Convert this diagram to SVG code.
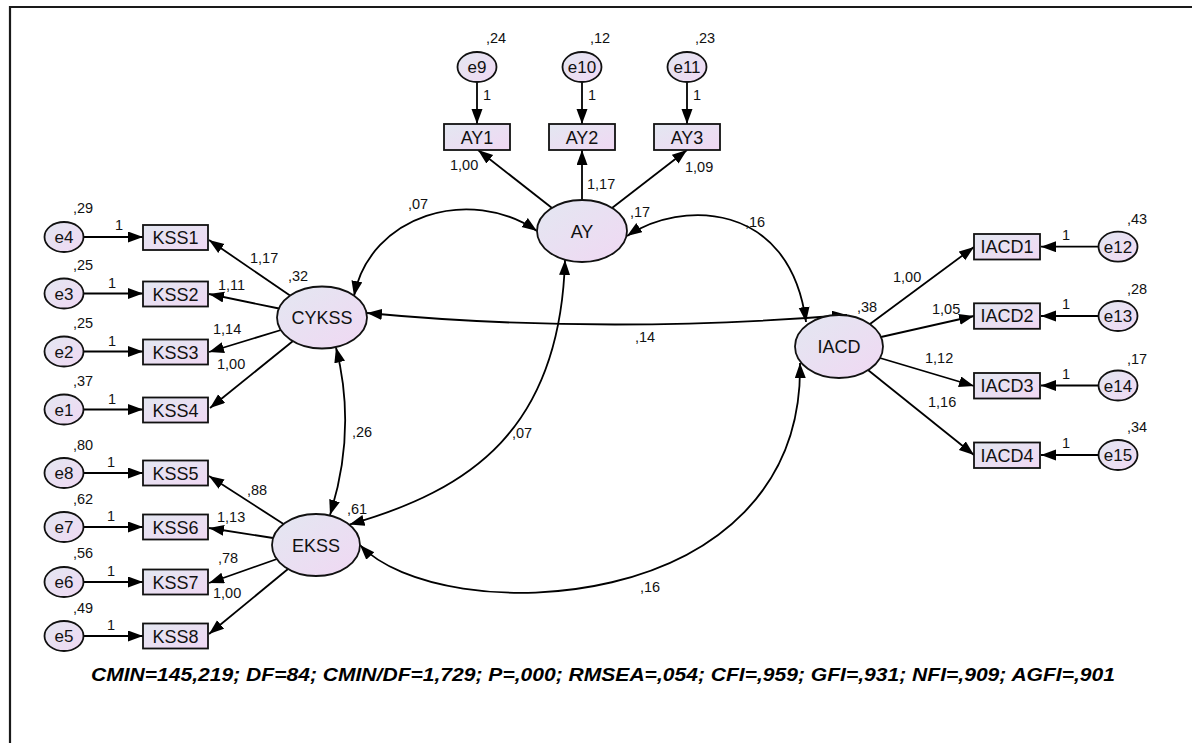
<svg xmlns="http://www.w3.org/2000/svg" width="1192" height="743" viewBox="0 0 1192 743">
<defs>
<linearGradient id="g" x1="0" y1="0" x2="1" y2="1">
<stop offset="0" stop-color="#e3e7f1"/>
<stop offset="1" stop-color="#f0d8f3"/>
</linearGradient>
<marker id="ah" markerUnits="userSpaceOnUse" markerWidth="16" markerHeight="12" refX="15" refY="5.5" orient="auto-start-reverse">
<path d="M0,0 L15,5.5 L0,11 z" fill="#000"/>
</marker>
<style>
.n ellipse,.n rect{fill:url(#g);stroke:#111;stroke-width:1.8}
.n text{font-family:"Liberation Sans",Arial,sans-serif;font-size:18px;text-anchor:middle;fill:#111}
.n text.s{font-size:17px}
.c path,.c line{fill:none;stroke:#000;stroke-width:1.8}
.a{marker-end:url(#ah)}
.b{marker-start:url(#ah);marker-end:url(#ah)}
.l text{font-family:"Liberation Sans",Arial,sans-serif;font-size:14.5px;fill:#111}
.fit{font-family:"Liberation Sans",Arial,sans-serif;font-size:18px;font-weight:bold;font-style:italic;fill:#000}
</style>
</defs>
<rect width="1192" height="743" fill="#fff"/>
<path d="M10,743 V7 H1192" fill="none" stroke="#1a1a1a" stroke-width="2.2"/>

<g class="c" id="connectors">
<line class="a" x1="477" y1="82" x2="477" y2="124"/>
<line class="a" x1="582" y1="82" x2="582" y2="124"/>
<line class="a" x1="687" y1="82" x2="687" y2="124"/>
<line class="a" x1="552" y1="208" x2="478" y2="150"/>
<line class="a" x1="582" y1="200" x2="582" y2="150"/>
<line class="a" x1="612" y1="208" x2="687" y2="150"/>

<line class="a" x1="83.5" y1="237" x2="143" y2="237"/>
<line class="a" x1="83.5" y1="293.5" x2="143" y2="293.5"/>
<line class="a" x1="83.5" y1="351.5" x2="143" y2="351.5"/>
<line class="a" x1="83.5" y1="409.5" x2="143" y2="409.5"/>
<line class="a" x1="83.5" y1="473" x2="143" y2="473"/>
<line class="a" x1="83.5" y1="527" x2="143" y2="527"/>
<line class="a" x1="83.5" y1="582" x2="143" y2="582"/>
<line class="a" x1="83.5" y1="636" x2="143" y2="636"/>

<line class="a" x1="290" y1="295.6" x2="209" y2="240"/>
<line class="a" x1="279" y1="308.5" x2="209" y2="294"/>
<line class="a" x1="281" y1="330" x2="209" y2="352"/>
<line class="a" x1="293" y1="341" x2="210" y2="408"/>

<line class="a" x1="283.5" y1="524" x2="209" y2="476"/>
<line class="a" x1="273" y1="538" x2="209" y2="528"/>
<line class="a" x1="277" y1="559" x2="209" y2="583"/>
<line class="a" x1="288" y1="569" x2="209" y2="634"/>

<line class="a" x1="870" y1="324" x2="974" y2="247"/>
<line class="a" x1="881" y1="337" x2="974" y2="316"/>
<line class="a" x1="880" y1="358" x2="974" y2="386"/>
<line class="a" x1="868" y1="370" x2="974" y2="455"/>

<line class="a" x1="1098.5" y1="246.7" x2="1041" y2="246.7"/>
<line class="a" x1="1098.5" y1="316" x2="1041" y2="316"/>
<line class="a" x1="1098.5" y1="385.5" x2="1041" y2="385.5"/>
<line class="a" x1="1098.5" y1="455" x2="1041" y2="455"/>

<path class="b" d="M354,296 C370,215 470,185 537,231"/>
<path class="b" d="M627,236 C680,200 790,200 806,322"/>
<path class="b" d="M367,313 Q600,335 847,315"/>
<path class="b" d="M336,347.5 Q357,430 330,515"/>
<path class="b" d="M565,260 C560,430 470,490 349.5,524.5"/>
<path class="b" d="M360,545 C440,630 805,620 800,363"/>
</g>

<g class="n" id="e9"><ellipse cx="477" cy="67" rx="19.5" ry="15"/><text class="s" x="477" y="73">e9</text></g>
<g class="n" id="e10"><ellipse cx="582" cy="67" rx="19.5" ry="15"/><text class="s" x="582" y="73">e10</text></g>
<g class="n" id="e11"><ellipse cx="687" cy="67" rx="19.5" ry="15"/><text class="s" x="687" y="73">e11</text></g>
<g class="n" id="AY1"><rect x="444" y="124" width="66" height="26"/><text x="477" y="143.5">AY1</text></g>
<g class="n" id="AY2"><rect x="549" y="124" width="66" height="26"/><text x="582" y="143.5">AY2</text></g>
<g class="n" id="AY3"><rect x="654" y="124" width="66" height="26"/><text x="687" y="143.5">AY3</text></g>
<g class="n" id="AY"><ellipse cx="582" cy="231" rx="45" ry="31"/><text x="582" y="237.5">AY</text></g>

<g class="n" id="e4"><ellipse cx="64" cy="237" rx="19.5" ry="15"/><text class="s" x="64" y="243">e4</text></g>
<g class="n" id="e3"><ellipse cx="64" cy="293.5" rx="19.5" ry="15"/><text class="s" x="64" y="299.5">e3</text></g>
<g class="n" id="e2"><ellipse cx="64" cy="351.5" rx="19.5" ry="15"/><text class="s" x="64" y="357.5">e2</text></g>
<g class="n" id="e1"><ellipse cx="64" cy="409.5" rx="19.5" ry="15"/><text class="s" x="64" y="415.5">e1</text></g>
<g class="n" id="e8"><ellipse cx="64" cy="473" rx="19.5" ry="15"/><text class="s" x="64" y="479">e8</text></g>
<g class="n" id="e7"><ellipse cx="64" cy="527" rx="19.5" ry="15"/><text class="s" x="64" y="533">e7</text></g>
<g class="n" id="e6"><ellipse cx="64" cy="582" rx="19.5" ry="15"/><text class="s" x="64" y="588">e6</text></g>
<g class="n" id="e5"><ellipse cx="64" cy="636" rx="19.5" ry="15"/><text class="s" x="64" y="642">e5</text></g>

<g class="n" id="KSS1"><rect x="143" y="225" width="65" height="25"/><text x="175.5" y="244">KSS1</text></g>
<g class="n" id="KSS2"><rect x="143" y="281.5" width="65" height="25"/><text x="175.5" y="300.5">KSS2</text></g>
<g class="n" id="KSS3"><rect x="143" y="339.5" width="65" height="25"/><text x="175.5" y="358.5">KSS3</text></g>
<g class="n" id="KSS4"><rect x="143" y="397.5" width="65" height="25"/><text x="175.5" y="416.5">KSS4</text></g>
<g class="n" id="KSS5"><rect x="143" y="460.5" width="65" height="25"/><text x="175.5" y="479.5">KSS5</text></g>
<g class="n" id="KSS6"><rect x="143" y="514.5" width="65" height="25"/><text x="175.5" y="533.5">KSS6</text></g>
<g class="n" id="KSS7"><rect x="143" y="569.5" width="65" height="25"/><text x="175.5" y="588.5">KSS7</text></g>
<g class="n" id="KSS8"><rect x="143" y="623.5" width="65" height="25"/><text x="175.5" y="642.5">KSS8</text></g>

<g class="n" id="CYKSS"><ellipse cx="322" cy="317.5" rx="45" ry="31"/><text x="322" y="324">CYKSS</text></g>
<g class="n" id="EKSS"><ellipse cx="316" cy="545" rx="44" ry="31"/><text x="316" y="551.5">EKSS</text></g>
<g class="n" id="IACD"><ellipse cx="839" cy="346.5" rx="44" ry="31.5"/><text x="839" y="353">IACD</text></g>

<g class="n" id="IACD1"><rect x="974" y="234" width="66" height="25.5"/><text x="1007" y="253">IACD1</text></g>
<g class="n" id="IACD2"><rect x="974" y="303.3" width="66" height="25.5"/><text x="1007" y="322.3">IACD2</text></g>
<g class="n" id="IACD3"><rect x="974" y="373" width="66" height="25.5"/><text x="1007" y="392">IACD3</text></g>
<g class="n" id="IACD4"><rect x="974" y="442.5" width="66" height="25.5"/><text x="1007" y="461.5">IACD4</text></g>
<g class="n" id="e12"><ellipse cx="1118" cy="246.7" rx="19.5" ry="15"/><text class="s" x="1118" y="252.7">e12</text></g>
<g class="n" id="e13"><ellipse cx="1118" cy="316" rx="19.5" ry="15"/><text class="s" x="1118" y="322">e13</text></g>
<g class="n" id="e14"><ellipse cx="1118" cy="385.5" rx="19.5" ry="15"/><text class="s" x="1118" y="391.5">e14</text></g>
<g class="n" id="e15"><ellipse cx="1118" cy="455" rx="19.5" ry="15"/><text class="s" x="1118" y="461">e15</text></g>

<g class="l" id="labels">
<text x="486" y="43">,24</text>
<text x="590" y="43">,12</text>
<text x="695" y="43">,23</text>
<text x="483" y="100">1</text>
<text x="588" y="100">1</text>
<text x="693" y="100">1</text>
<text x="450" y="170">1,00</text>
<text x="587" y="189">1,17</text>
<text x="685" y="172">1,09</text>
<text x="408" y="209">,07</text>
<text x="630" y="217">,17</text>
<text x="745" y="227">,16</text>

<text x="73" y="213">,29</text>
<text x="115" y="230">1</text>
<text x="73" y="270">,25</text>
<text x="108" y="288">1</text>
<text x="73" y="328">,25</text>
<text x="108" y="346">1</text>
<text x="73" y="386">,37</text>
<text x="108" y="404">1</text>
<text x="250" y="263">1,17</text>
<text x="288" y="281">,32</text>
<text x="218" y="290">1,11</text>
<text x="213" y="334">1,14</text>
<text x="217" y="369">1,00</text>

<text x="352" y="437">,26</text>
<text x="73" y="450">,80</text>
<text x="107" y="467">1</text>
<text x="247" y="495">,88</text>
<text x="73" y="504">,62</text>
<text x="107" y="521">1</text>
<text x="217" y="522">1,13</text>
<text x="73" y="558">,56</text>
<text x="107" y="576">1</text>
<text x="218" y="563">,78</text>
<text x="213" y="598">1,00</text>
<text x="73" y="613">,49</text>
<text x="107" y="630">1</text>
<text x="347" y="514">,61</text>

<text x="635" y="342">,14</text>
<text x="512" y="438">,07</text>
<text x="640" y="592">,16</text>

<text x="1127" y="224">,43</text>
<text x="1062" y="240">1</text>
<text x="893" y="282">1,00</text>
<text x="857" y="312">,38</text>
<text x="1127" y="294">,28</text>
<text x="1062" y="309">1</text>
<text x="932" y="314">1,05</text>
<text x="1127" y="364">,17</text>
<text x="925" y="363">1,12</text>
<text x="1062" y="379">1</text>
<text x="928" y="407">1,16</text>
<text x="1127" y="432">,34</text>
<text x="1062" y="448">1</text>
</g>

<text class="fit" x="91" y="681" textLength="1024" lengthAdjust="spacingAndGlyphs">CMIN=145,219; DF=84; CMIN/DF=1,729; P=,000; RMSEA=,054; CFI=,959; GFI=,931; NFI=,909; AGFI=,901</text>
</svg>
